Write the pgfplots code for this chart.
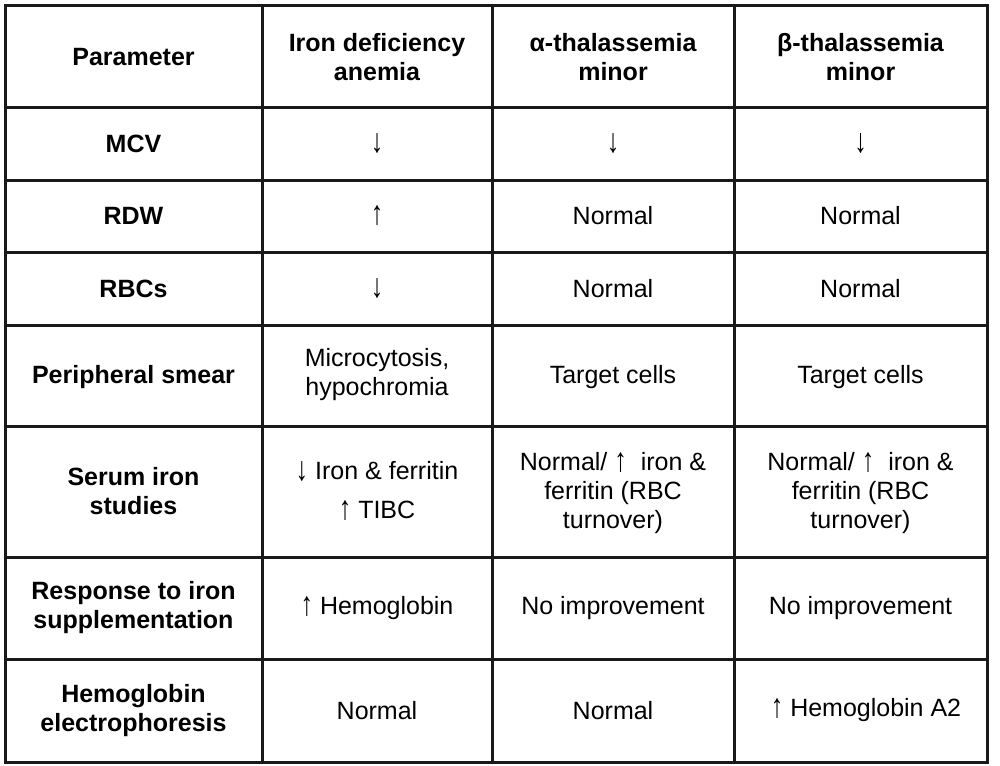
\documentclass[border=0pt]{standalone}
\usepackage{pgfplots}
\pgfplotsset{compat=1.18}
\usepackage{fontspec}
\setmainfont{Liberation Sans}
\tikzset{
  cell/.style={align=center, font=\fontsize{12.5}{14.5}\selectfont},
  head/.style={align=center, font=\fontsize{12.5}{14.5}\selectfont\bfseries},
}
\pgfplotsset{rule/.style={draw=black!90, solid, line width=1.5pt, line cap=rect, mark=none}}
\newcommand{\dn}{\raisebox{-0.5pt}{\scalebox{1}[1.35]{↓}}}
\newcommand{\up}{\raisebox{-0.5pt}{\scalebox{1}[1.35]{↑}}}
\begin{document}
\begin{tikzpicture}
\begin{axis}[
  width=500pt, height=382.5pt, scale only axis,
  xmin=0, xmax=1000, ymin=0, ymax=765, y dir=reverse,
  hide axis, clip=false,
]
% frame for bounding box
\addplot[draw=none, mark=none] coordinates {(0,0) (1000,765)};
% horizontal rules
\addplot[rule] coordinates {(5,6) (987,6)};
\addplot[rule] coordinates {(5,108) (987,108)};
\addplot[rule] coordinates {(5,180) (987,180)};
\addplot[rule] coordinates {(5,252) (987,252)};
\addplot[rule] coordinates {(5,325) (987,325)};
\addplot[rule] coordinates {(5,426) (987,426)};
\addplot[rule] coordinates {(5,557) (987,557)};
\addplot[rule] coordinates {(5,659) (987,659)};
\addplot[rule] coordinates {(5,762) (987,762)};
% vertical rules
\addplot[rule] coordinates {(5,6) (5,762)};
\addplot[rule] coordinates {(262,6) (262,762)};
\addplot[rule] coordinates {(492,6) (492,762)};
\addplot[rule] coordinates {(734,6) (734,762)};
\addplot[rule] coordinates {(987,6) (987,762)};
% header
\node[head] at (axis cs:133.5,57) {Parameter};
\node[head] at (axis cs:377,57) {Iron deficiency\\anemia};
\node[head] at (axis cs:613,57) {α-thalassemia\\minor};
\node[head] at (axis cs:860.5,57) {β-thalassemia\\minor};
% row labels
\node[head] at (axis cs:133.5,144) {MCV};
\node[head] at (axis cs:133.5,216) {RDW};
\node[head] at (axis cs:133.5,288.5) {RBCs};
\node[head] at (axis cs:133.5,377) {Peripheral smear};
\node[head] at (axis cs:133.5,491.5) {Serum iron\\studies};
\node[head] at (axis cs:133.5,608) {Response to iron\\supplementation};
\node[head] at (axis cs:133.5,710.5) {Hemoglobin\\electrophoresis};
% MCV
\node[cell] at (axis cs:377,144) {\dn};
\node[cell] at (axis cs:613,144) {\dn};
\node[cell] at (axis cs:860.5,144) {\dn};
% RDW
\node[cell] at (axis cs:377,216) {\up};
\node[cell] at (axis cs:613,216) {Normal};
\node[cell] at (axis cs:860.5,216) {Normal};
% RBCs
\node[cell] at (axis cs:377,288.5) {\dn};
\node[cell] at (axis cs:613,288.5) {Normal};
\node[cell] at (axis cs:860.5,288.5) {Normal};
% Peripheral smear
\node[cell] at (axis cs:377,375) {Microcytosis,\\hypochromia};
\node[cell] at (axis cs:613,377) {Target cells};
\node[cell] at (axis cs:860.5,377) {Target cells};
% Serum iron
\node[cell] at (axis cs:377,471) {\dn\ Iron \& ferritin};
\node[cell] at (axis cs:377,511) {\up\ TIBC};
\node[cell] at (axis cs:613,493) {Normal/ \up\ \ iron \&\\ferritin (RBC\\turnover)};
\node[cell] at (axis cs:860.5,493) {Normal/ \up\ \ iron \&\\ferritin (RBC\\turnover)};
% Response
\node[cell] at (axis cs:377,608) {\up\ Hemoglobin};
\node[cell] at (axis cs:613,608) {No improvement};
\node[cell] at (axis cs:860.5,608) {No improvement};
% Electrophoresis
\node[cell] at (axis cs:377,710.5) {Normal};
\node[cell] at (axis cs:613,710.5) {Normal};
\node[cell] at (axis cs:866,710.5) {\up\ Hemoglobin A2};
\end{axis}
\end{tikzpicture}
\end{document}
